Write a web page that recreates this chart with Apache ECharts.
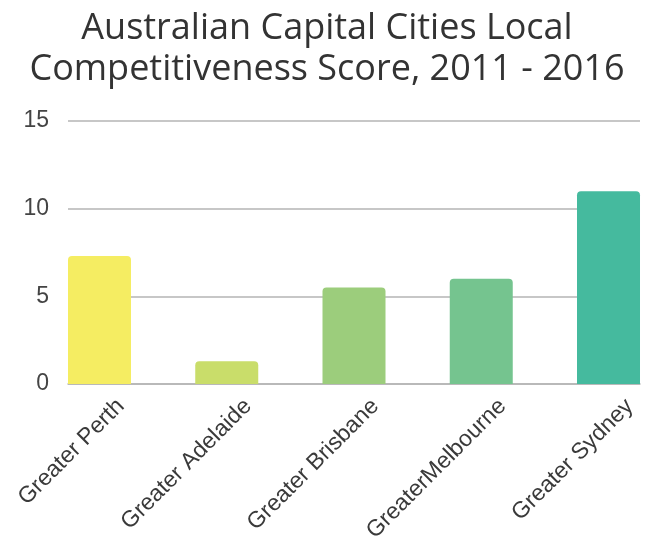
<!DOCTYPE html>
<html>
<head>
<meta charset="utf-8">
<script src="https://cdn.jsdelivr.net/npm/echarts@6/dist/echarts.min.js"></script>
<style>
html, body { margin: 0; padding: 0; background: #fff; }
#plot { width: 654px; height: 553px; }
</style>
</head>
<body>
<div id="plot"></div>
<script>
var cities = ['Greater Perth', 'Greater Adelaide', 'Greater Brisbane', 'GreaterMelbourne', 'Greater Sydney'];
var scores = [7.3, 1.3, 5.5, 6.0, 11.0];
var barColors = ['#f5ed62', '#c9dd6a', '#9ccd7c', '#75c48f', '#45ba9e'];
var yTicks = [0, 5, 10, 15];

var chart = echarts.init(document.getElementById('plot'));

// bars sit on a numeric x scale (index of the city) so the outer bars
// can touch the ends of the gridlines like in the original
var bars = [], idx = [];
for (var i = 0; i < scores.length; i++) {
	idx.push(i);
	bars.push({ value: [i, scores[i]], itemStyle: { color: barColors[i] } });
}
var edge = 0.2475;

var option = {
	backgroundColor: '#fff',
	animation: false,
	title: {
		text: 'Australian Capital Cities Local\nCompetitiveness Score, 2011 - 2016',
		left: 'center',
		top: 3,
		textStyle: {
			fontFamily: 'Open Sans',
			fontWeight: 'normal',
			fontSize: 36,
			lineHeight: 41,
			color: '#333'
		}
	},
	grid: { left: 68, right: 14, top: 121, bottom: 169 },
	xAxis: {
		type: 'value',
		min: -edge,
		max: idx.length - 1 + edge,
		splitLine: { show: false },
		axisLine: { show: true, lineStyle: { color: '#b5b5b5', width: 1.5 } },
		axisTick: { show: false },
		axisLabel: {
			customValues: idx,
			formatter: function (v) { return cities[Math.round(v)]; },
			rotate: 45,
			margin: 40,
			padding: [0, -30, 0, 0],
			fontFamily: 'Liberation Sans',
			fontSize: 23,
			color: '#3a3a3a'
		}
	},
	yAxis: {
		type: 'value', min: yTicks[0], max: yTicks[yTicks.length - 1], interval: 5,
		axisLine: { show: false }, axisTick: { show: false },
		axisLabel: { margin: 19, fontFamily: 'Liberation Sans', fontSize: 23, color: '#444' },
		splitLine: { lineStyle: { color: '#b5b5b5', width: 1.5 } }
	},
	series: [
		{
			type: 'bar',
			data: bars,
			barWidth: 63,
			itemStyle: { borderRadius: [4, 4, 0, 0] }
		}
	]
};

chart.setOption(option);
</script>
</body>
</html>
